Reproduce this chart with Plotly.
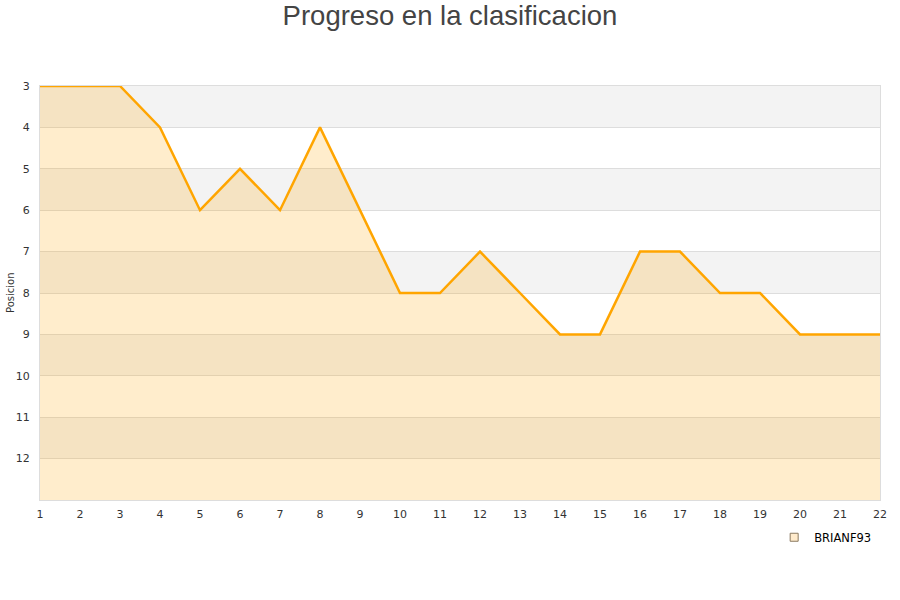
import plotly.graph_objects as go

jornadas = list(range(1, 23))
posiciones = [3, 3, 3, 4, 6, 5, 6, 4, 6, 8, 8, 7, 8, 9, 9, 7, 7, 8, 8, 9, 9, 9]
y_ticks = list(range(3, 13))
jugador = "BRIANF93"
titulo = "Progreso en la clasificacion"
y_titulo = "Posicion"

fig = go.Figure()
fig.add_trace(go.Scatter(x=jornadas, y=[13] * len(jornadas), mode="lines",
                         line=dict(width=0), showlegend=False, hoverinfo="skip"))
fig.add_trace(go.Scatter(x=jornadas, y=posiciones, mode="lines", fill="tonexty",
                         fillcolor="rgba(255,165,0,0.2)",
                         line=dict(color="#FFA500", width=2.5), showlegend=False,
                         name=jugador))
fig.add_trace(go.Scatter(x=[None], y=[None], mode="markers", name=jugador,
                         marker=dict(symbol="square", size=8, color="#FFEBCC",
                                     line=dict(color="#8a7a60", width=1))))

shapes = []
for k in range(3, 13, 2):
    shapes.append(dict(type="rect", xref="paper", yref="y", x0=0, x1=1, y0=k, y1=k + 1,
                       fillcolor="#F3F3F3", line=dict(width=0), layer="below"))

fig.update_layout(
    width=900, height=600,
    title=dict(text=titulo, x=0.5, xanchor="center", y=0.975, yanchor="middle",
               font=dict(family="Liberation Sans, Arial", size=27.5, color="#444444")),
    margin=dict(l=40, r=20, t=86, b=100),
    plot_bgcolor="white", paper_bgcolor="white",
    shapes=shapes,
    showlegend=True,
    legend=dict(x=0.874, y=-0.09, xanchor="left", yanchor="middle",
                font=dict(family="DejaVu Sans", size=11.5, color="#000000"),
                bgcolor="rgba(0,0,0,0)"),
    annotations=[dict(text=y_titulo, xref="paper", yref="paper", x=-0.0357, y=0.5,
                      xanchor="center", yanchor="middle", textangle=-90,
                      showarrow=False,
                      font=dict(family="DejaVu Sans", size=10, color="#333333"))],
    xaxis=dict(range=[1, 22], tickvals=jornadas, showgrid=False, zeroline=False,
               showline=True, mirror=True, linecolor="#DDDDDD", linewidth=1,
               ticks="", ticklabelstandoff=4, automargin=False,
               tickfont=dict(family="DejaVu Sans", size=11, color="#333333")),
    yaxis=dict(range=[13, 3], tickvals=y_ticks, showgrid=True, gridcolor="#DDDDDD",
               zeroline=False, showline=True, mirror=True, linecolor="#DDDDDD",
               linewidth=1, ticks="", ticklabelstandoff=7, automargin=False,
               tickfont=dict(family="DejaVu Sans", size=11, color="#333333")),
)

fig.write_html("out.html", config={"displayModeBar": False})
with open("out.html", "r", encoding="utf-8") as f:
    html = f.read()
html = html.replace("<body>", '<body style="margin:0;padding:0;">', 1)
html = html.replace("<head>", "<head><style>html,body{margin:0;padding:0;}</style>", 1)
with open("out.html", "w", encoding="utf-8") as f:
    f.write(html)
